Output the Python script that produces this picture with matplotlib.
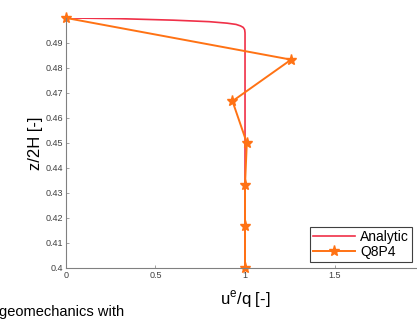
import matplotlib
matplotlib.use('Agg')
import matplotlib.pyplot as plt

# analytic solution near the top boundary
analytic_u = [0.0, 0.3, 0.6, 0.8, 0.9, 0.95, 0.975, 0.99, 0.998, 1.0, 1.0, 1.0]
analytic_z = [0.5, 0.4997, 0.4991, 0.4985, 0.4979, 0.4974, 0.4968, 0.4962, 0.4953, 0.4940, 0.47, 0.4]

# Q8P4 element results
q8p4_u = [0.0, 1.257, 0.93, 1.01, 1.0, 1.0, 1.0]
q8p4_z = [0.5, 0.4833, 0.4667, 0.45, 0.4333, 0.4167, 0.4]

yticks = [0.4, 0.41, 0.42, 0.43, 0.44, 0.45, 0.46, 0.47, 0.48, 0.49]
ytick_labels = ['0.4', '0.41', '0.42', '0.43', '0.44', '0.45', '0.46', '0.47', '0.48', '0.49']
xticks = [0, 0.5, 1, 1.5]
xtick_labels = ['0', '0.5', '1', '1.5']

plt.rcParams['font.family'] = ['Liberation Sans', 'DejaVu Sans']

fig = plt.figure(figsize=(4.17, 3.2), dpi=100)
ax = fig.add_axes([0.158, 0.163, 0.842, 0.781])

ax.plot(analytic_u, analytic_z, color='#f03048', lw=1.2, label='Analytic')
ax.plot(q8p4_u, q8p4_z, color='#ff7214', lw=1.4, marker='*', ms=8,
        label='Q8P4', clip_on=False)

ax.set(xlim=(0, 1.96), ylim=(0.4, 0.5))
ax.set_xticks(xticks)
ax.set_xticklabels(xtick_labels)
ax.set_yticks(yticks)
ax.set_yticklabels(ytick_labels)
ax.tick_params(direction='in', length=2.5, width=0.6, labelsize=6.5,
               colors='#909090', labelcolor='#404040', pad=2)
ax.spines['top'].set_visible(False)
ax.spines['right'].set_visible(False)
for s in ['left', 'bottom']:
    ax.spines[s].set_color('#808080')
    ax.spines[s].set_linewidth(0.8)

ax.set_ylabel('z/2H [-]', fontsize=12, labelpad=2)
fig.text(0.588, 0.03, r'u$^{\mathregular{e}}$/q [-]', fontsize=12,
         ha='center', va='bottom')

leg = ax.legend(loc='lower right', bbox_to_anchor=(0.988, 0.182),
                bbox_transform=fig.transFigure, fontsize=10, frameon=True,
                fancybox=False, framealpha=1, borderpad=0.2,
                handlelength=3.0, handletextpad=0.4, labelspacing=0.1,
                borderaxespad=0)
leg.get_frame().set_edgecolor('#404040')
leg.get_frame().set_linewidth(0.8)

fig.text(-0.003, 0.002, 'geomechanics with', fontsize=10.5, ha='left', va='bottom')

fig.savefig('out.png', dpi=100)
